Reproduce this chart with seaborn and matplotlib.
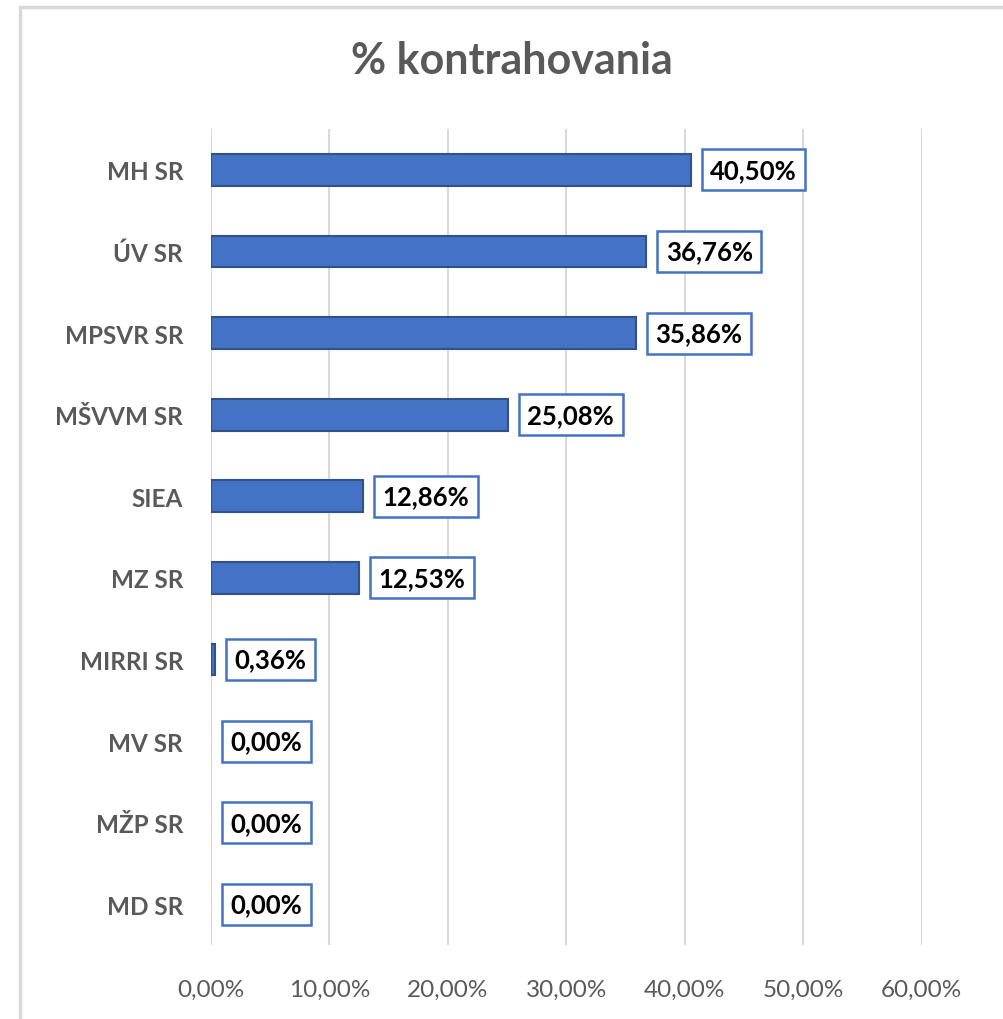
import seaborn as sns
import matplotlib.pyplot as plt
import pandas as pd
from matplotlib.patches import Rectangle

# chart data
categories = ["MH SR", "ÚV SR", "MPSVR SR", "MŠVVM SR", "SIEA", "MZ SR",
              "MIRRI SR", "MV SR", "MŽP SR", "MD SR"]
values = [40.50, 36.76, 35.86, 25.08, 12.86, 12.53, 0.36, 0.00, 0.00, 0.00]
x_ticks = [0, 10, 20, 30, 40, 50, 60]
title = "% kontrahovania"

df = pd.DataFrame({"category": categories, "value": values})

sns.set_style("white")
plt.rcParams['font.family'] = ['Lato', 'DejaVu Sans']

fig = plt.figure(figsize=(10.04, 10.20), dpi=100)
ax = fig.add_axes([0.210, 0.0725, 0.708, 0.80])

# chart frame
fig.patches.append(Rectangle((20 / 1004, -0.01), 1.0, 1 - 8 / 1020 + 0.01,
                             transform=fig.transFigure, facecolor="none",
                             edgecolor="#D9D9D9", linewidth=2.5))

sns.barplot(data=df, x="value", y="category", orient="h", color="#4472C4",
            saturation=1, width=0.39, edgecolor="#2F528F", linewidth=1.5, ax=ax)
# no outline for empty bars
for p in ax.patches:
    if p.get_width() == 0:
        p.set_linewidth(0)

ax.set_xlim(0, 60)
ax.set_xticks(x_ticks)
ax.set_xticklabels([f"{t:.2f}%".replace(".", ",") for t in x_ticks],
                   fontsize=17.5, color="#595959")
ax.tick_params(axis="x", length=0, pad=24)
ax.tick_params(axis="y", length=0, pad=20)
for lbl in ax.get_yticklabels():
    lbl.set_fontsize(17.5)
    lbl.set_fontweight("bold")
    lbl.set_color("#595959")
ax.set_xlabel("")
ax.set_ylabel("")
ax.xaxis.grid(True, color="#D9D9D9", linewidth=1.5)
ax.set_axisbelow(True)
for s in ax.spines.values():
    s.set_visible(False)

# value labels in boxes
for i, v in enumerate(values):
    ax.annotate(f"{v:.2f}%".replace(".", ","), xy=(v, i), xytext=(14, 0),
                textcoords="offset points", va="center", ha="left",
                fontsize=18.5, fontweight="bold", color="black",
                bbox=dict(boxstyle="square,pad=0.33", facecolor="white",
                          edgecolor="#4472C4", linewidth=1.8))

fig.text(0.51, 0.94, title, ha="center", va="center", fontsize=31,
         fontweight="bold", color="#595959")

fig.savefig("out.png", dpi=100)
